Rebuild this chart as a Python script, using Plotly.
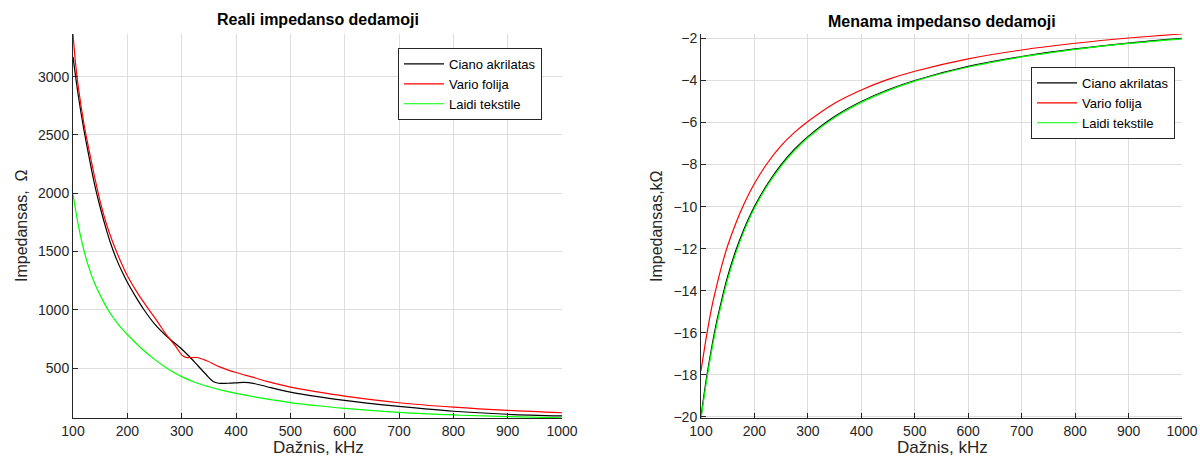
import plotly.graph_objects as go

# ---------------- Data ----------------
# Left panel: real part of impedance, Ohm
x_ciano_re = [100, 110, 120, 130, 140, 150, 160, 170, 180, 190, 200, 215, 230, 250, 275, 300,
              315, 330, 345, 358, 368, 385, 400, 415, 432, 457, 500, 550, 600, 650, 700, 800, 900, 1000]
y_ciano_re = [3170, 2830, 2545, 2300, 2070, 1880, 1710, 1560, 1435, 1330, 1236, 1115, 1005, 880, 762, 664,
              595, 520, 445, 385, 370, 370, 373, 377, 369, 340, 294, 255, 223, 195, 171, 130, 104, 90]

x_vario_re = [100, 105, 110, 120, 130, 140, 150, 160, 170, 180, 190, 200, 220, 240, 256, 272, 290, 300,
              308, 318, 328, 346, 370, 400, 432, 457, 500, 550, 600, 700, 800, 900, 1000]
y_vario_re = [3366, 3100, 2905, 2600, 2360, 2135, 1930, 1760, 1620, 1500, 1390, 1292, 1135, 1000, 895, 785,
              680, 614, 592, 590, 591, 563, 511, 462, 420, 386, 337, 296, 260, 203, 165, 137, 117]

x_laidi_re = [100, 110, 120, 130, 140, 150, 160, 170, 180, 190, 200, 225, 250, 275, 300, 325, 350,
              375, 400, 450, 500, 550, 600, 700, 800, 900, 1000]
y_laidi_re = [1991, 1721, 1511, 1351, 1226, 1126, 1036, 960, 895, 838, 788, 673, 575, 493, 427, 377, 340,
              309, 283, 240, 204, 177, 154, 120, 98, 84, 74]

# Right panel: imaginary part of impedance, kOhm
x_im = [100, 110, 120, 130, 140, 150, 165, 180, 200, 225, 250, 275, 300, 350, 400, 450, 500,
        600, 700, 800, 900, 1000]
y_ciano_im = [-20, -18.2, -16.7, -15.4, -14.3, -13.3, -12.1, -11.1, -10, -8.9, -8, -7.27, -6.67,
              -5.71, -5, -4.44, -4, -3.33, -2.86, -2.5, -2.22, -2.0]
y_vario_im = [-17.8, -16.2, -14.8, -13.7, -12.7, -11.85, -10.8, -9.9, -8.9, -7.9, -7.1, -6.47, -5.95,
              -5.08, -4.45, -3.95, -3.56, -2.97, -2.55, -2.23, -1.98, -1.79]
y_laidi_im = [-20.1, -18.35, -16.85, -15.55, -14.45, -13.45, -12.22, -11.2, -10.08, -8.97, -8.07, -7.33,
              -6.72, -5.76, -5.04, -4.48, -4.03, -3.36, -2.88, -2.52, -2.24, -2.02]

names = ["Ciano akrilatas", "Vario folija", "Laidi tekstile"]
colors = ["#000000", "#ff0000", "#00ff00"]
x_ticks = [100, 200, 300, 400, 500, 600, 700, 800, 900, 1000]
y_ticks_re = [500, 1000, 1500, 2000, 2500, 3000]
y_ticks_im = [-20, -18, -16, -14, -12, -10, -8, -6, -4, -2]

FONT = "Liberation Sans, Arial, sans-serif"
AX = "#262626"
GRID = "#dedede"

fig = go.Figure()

left = [(x_ciano_re, y_ciano_re), (x_vario_re, y_vario_re), (x_laidi_re, y_laidi_re)]
right = [(x_im, y_ciano_im), (x_im, y_vario_im), (x_im, y_laidi_im)]

for (xs, ys), n, c in zip(left, names, colors):
    fig.add_trace(go.Scatter(x=xs, y=ys, name=n, mode="lines",
                             line=dict(color=c, width=1.2, shape="spline", smoothing=1.0),
                             xaxis="x", yaxis="y", legend="legend"))
for (xs, ys), n, c in zip(right, names, colors):
    fig.add_trace(go.Scatter(x=xs, y=ys, name=n, mode="lines",
                             line=dict(color=c, width=1.2, shape="spline", smoothing=1.0),
                             xaxis="x2", yaxis="y2", legend="legend2"))

W, H = 1200, 466
def px_x(p):
    return p / W
def px_y(p):
    return 1 - p / H

common_x = dict(range=[100, 1000], tickvals=x_ticks, showgrid=True, gridcolor=GRID, gridwidth=1,
                showline=True, linecolor=AX, linewidth=1, ticks="inside", ticklen=5, tickcolor=AX,
                zeroline=False, tickfont=dict(family=FONT, size=14, color=AX), mirror=False,
                automargin=False, ticklabeloverflow="allow")
common_y = dict(showgrid=True, gridcolor=GRID, gridwidth=1,
                showline=True, linecolor=AX, linewidth=1, ticks="inside", ticklen=5, tickcolor=AX,
                zeroline=False, tickfont=dict(family=FONT, size=14, color=AX), mirror=False,
                automargin=False, ticklabeloverflow="allow")

legend_common = dict(bgcolor="white", bordercolor=AX, borderwidth=1,
                     font=dict(family=FONT, size=13, color="#000000"),
                     xanchor="left", yanchor="top", tracegroupgap=0, itemwidth=40)

fig.update_layout(
    width=W, height=H,
    margin=dict(l=0, r=0, t=0, b=0, autoexpand=False),
    paper_bgcolor="white", plot_bgcolor="white",
    showlegend=True,
    xaxis=dict(domain=[px_x(73), px_x(562)], anchor="y", **common_x),
    yaxis=dict(domain=[px_y(418), px_y(34)], anchor="x", range=[72, 3366], tickvals=y_ticks_re,
               **common_y),
    xaxis2=dict(domain=[px_x(701), px_x(1182)], anchor="y2", **common_x),
    yaxis2=dict(domain=[px_y(418), px_y(34)], anchor="x2", range=[-20.05, -1.79], tickvals=y_ticks_im,
                **common_y),
    legend=dict(x=px_x(398), y=px_y(48), **legend_common),
    legend2=dict(x=px_x(1031), y=px_y(67), **legend_common),
    annotations=[
        dict(text="<b>Reali impedanso dedamoji</b>", x=px_x(318), y=px_y(20), xref="paper", yref="paper",
             showarrow=False, font=dict(family=FONT, size=16, color="#000000"), xanchor="center", yanchor="middle"),
        dict(text="<b>Menama impedanso dedamoji</b>", x=px_x(942), y=px_y(21), xref="paper", yref="paper",
             showarrow=False, font=dict(family=FONT, size=16, color="#000000"), xanchor="center", yanchor="middle"),
        dict(text="Dažnis, kHz", x=px_x(318), y=px_y(447), xref="paper", yref="paper",
             showarrow=False, font=dict(family=FONT, size=17, color=AX), xanchor="center", yanchor="middle"),
        dict(text="Dažnis, kHz", x=px_x(942), y=px_y(447), xref="paper", yref="paper",
             showarrow=False, font=dict(family=FONT, size=17, color=AX), xanchor="center", yanchor="middle"),
        dict(text="Impedansas,&nbsp; Ω", x=px_x(21), y=px_y(226), xref="paper", yref="paper", textangle=-90,
             showarrow=False, font=dict(family=FONT, size=16, color=AX), xanchor="center", yanchor="middle"),
        dict(text="Impedansas,kΩ", x=px_x(656), y=px_y(226), xref="paper", yref="paper", textangle=-90,
             showarrow=False, font=dict(family=FONT, size=16, color=AX), xanchor="center", yanchor="middle"),
    ],
)

fig.write_html("out.html")
